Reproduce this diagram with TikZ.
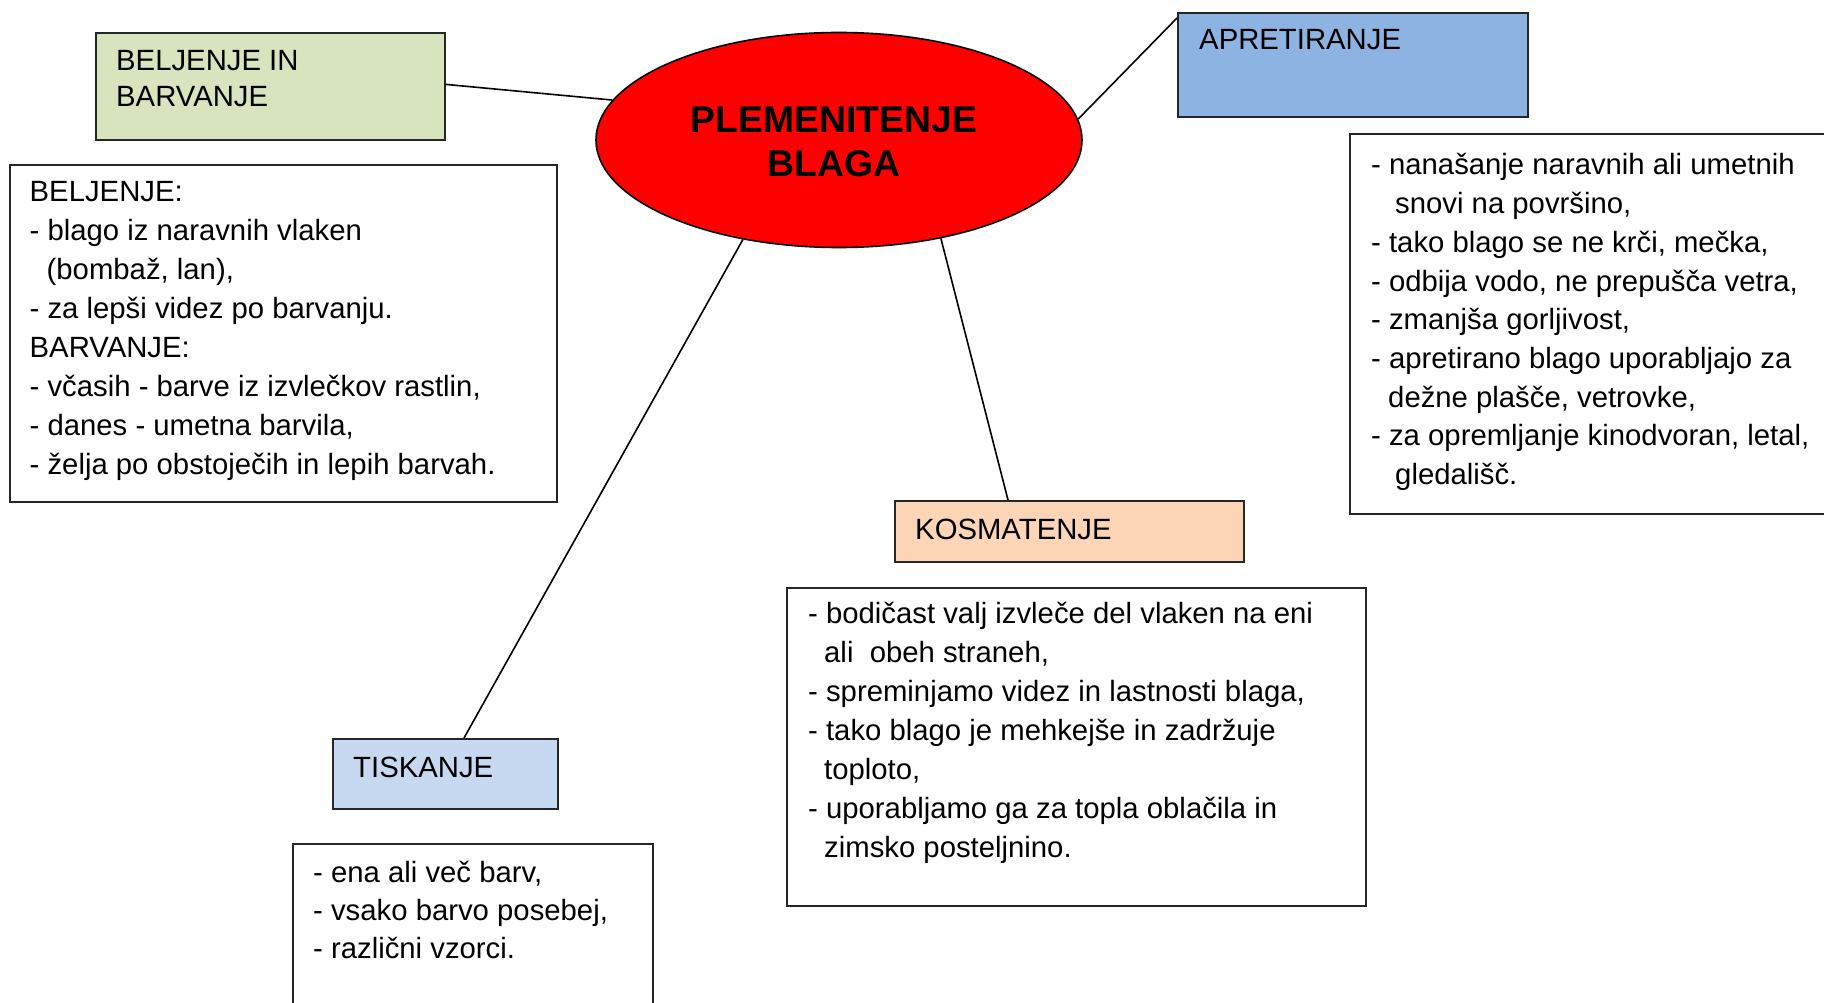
\documentclass[tikz,border=0pt]{standalone}
\usepackage{fontspec}
\setmainfont{Liberation Sans}
\usetikzlibrary{calc,shapes.geometric}
\definecolor{cgreen}{HTML}{D7E4BD}
\definecolor{cblue}{HTML}{8DB3E2}
\definecolor{clight}{HTML}{C6D9F1}
\definecolor{corange}{HTML}{FBD5B5}
\definecolor{cred}{HTML}{FF0000}
\newcommand{\bodytext}[2]{\parbox[t]{560pt}{\fontsize{29.3}{#1}\selectfont\raggedright #2}}
\begin{document}
\begin{tikzpicture}[x=1pt,y=-1pt,
  titlebox/.style={draw=black!85, line width=1.8pt, inner sep=0pt, anchor=north west},
  textbox/.style={draw=black!85, line width=1.6pt, inner sep=0pt, anchor=north west, fill=white},
  txt/.style={inner sep=0pt, anchor=base west, font=\fontsize{29.3}{36}\selectfont},
  conn/.style={draw=black, line width=1.6pt}]
\useasboundingbox[fill=white] (0,0) rectangle (1824,1003);

% central ellipse
\node[ellipse, draw=black, line width=1.6pt, fill=cred, minimum width=486pt, minimum height=215pt, inner sep=0pt] (ell) at (839,140) {};
\node[inner sep=0pt, anchor=base, font=\bfseries\fontsize{37.3}{44.5}\selectfont] (title) at (834,132.5)
  {\parbox[t]{400pt}{\centering PLEMENITENJE\\BLAGA}};

% title boxes
\node[titlebox, fill=cgreen, minimum width=349pt, minimum height=107pt] (gbox) at (95,32) {};
\node[txt] (gtxt) at (116,71) {\parbox[t]{320pt}{\fontsize{29.3}{36}\selectfont BELJENJE IN\\BARVANJE}};

\node[titlebox, fill=cblue, minimum width=350pt, minimum height=104pt] (apr) at (1177,12) {};
\node[txt] (aprtxt) at (1199,50) {APRETIRANJE};

\node[titlebox, fill=corange, minimum width=349pt, minimum height=61pt] (kosm) at (894,500) {};
\node[txt] (kosmtxt) at (915,539) {KOSMATENJE};

\node[titlebox, fill=clight, minimum width=225pt, minimum height=70pt] (tisk) at (332,738) {};
\node[txt] (tisktxt) at (353,777) {TISKANJE};

% text boxes
\node[textbox, minimum width=547pt, minimum height=337pt] (belbox) at (9,164) {};
\node[inner sep=0pt, anchor=base west] (beltxt) at (29.5,202) {\bodytext{39}{%
BELJENJE:\\
- blago iz naravnih vlaken\\
\hspace*{17pt}(bombaž, lan),\\
- za lepši videz po barvanju.\\
BARVANJE:\\
- včasih - barve iz izvlečkov rastlin,\\
- danes - umetna barvila,\\
- želja po obstoječih in lepih barvah.}};

\node[textbox, minimum width=500pt, minimum height=380pt] (aprbox) at (1349,133) {};
\node[inner sep=0pt, anchor=base west] (aprbody) at (1371,175) {\bodytext{38.7}{%
- nanašanje naravnih ali umetnih\\
\hspace*{24pt}snovi na površino,\\
- tako blago se ne krči, mečka,\\
- odbija vodo, ne prepušča vetra,\\
- zmanjša gorljivost,\\
- apretirano blago uporabljajo za\\
\hspace*{17pt}dežne plašče, vetrovke,\\
- za opremljanje kinodvoran, letal,\\
\hspace*{24pt}gledališč.}};

\node[textbox, minimum width=579pt, minimum height=318pt] (kosmbox) at (786,587) {};
\node[inner sep=0pt, anchor=base west] (kosmbody) at (808,623) {\bodytext{39}{%
- bodičast valj izvleče del vlaken na eni\\
\hspace*{16pt}ali\ \ obeh straneh,\\
- spreminjamo videz in lastnosti blaga,\\
- tako blago je mehkejše in zadržuje\\
\hspace*{16pt}toploto,\\
- uporabljamo ga za topla oblačila in\\
\hspace*{16pt}zimsko posteljnino.}};

\node[textbox, minimum width=360pt, minimum height=200pt] (tiskbox) at (292,843) {};
\node[inner sep=0pt, anchor=base west] (tiskbody) at (313,882) {\bodytext{38}{%
- ena ali več barv,\\
- vsako barvo posebej,\\
- različni vzorci.}};

% connectors
\draw[conn] ($(gbox.east)+(0,-2)$) -- (ell.170);
\draw[conn] (ell.5) -- ($(apr.north west)+(0,6)$);
\draw[conn] (ell.226) -- ($(tisk.north west)+(132,0)$);
\draw[conn] (ell.316) -- ($(kosm.north west)+(114,0)$);
\end{tikzpicture}
\end{document}
